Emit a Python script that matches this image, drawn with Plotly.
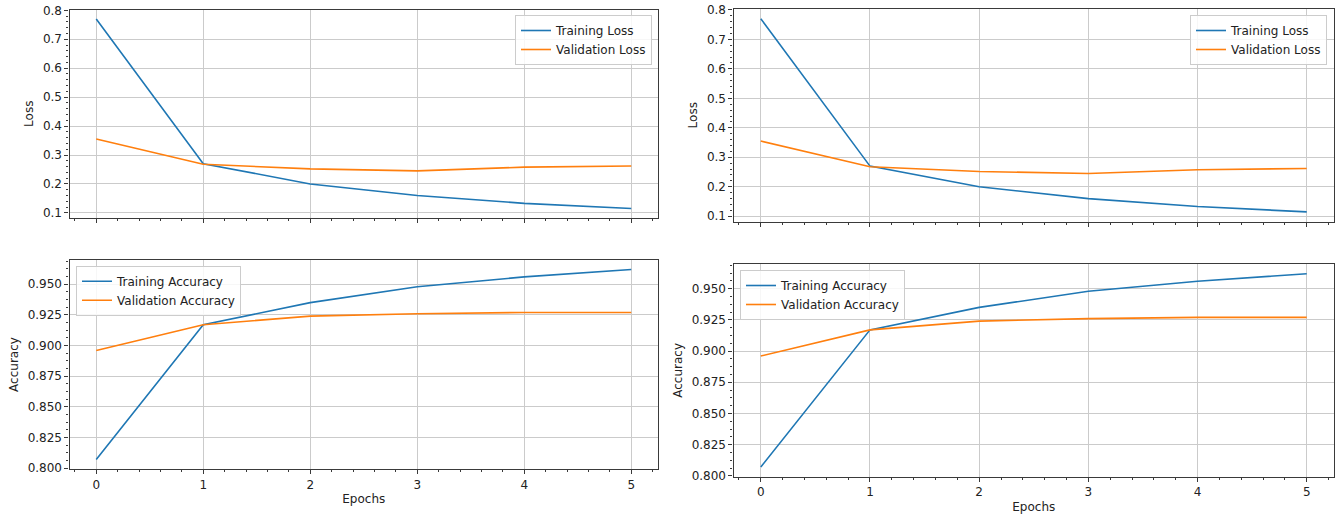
import plotly.graph_objects as go

epochs = [0, 1, 2, 3, 4, 5]
train_loss = [0.770, 0.270, 0.200, 0.160, 0.133, 0.115]
val_loss = [0.355, 0.268, 0.252, 0.245, 0.258, 0.262]
train_acc = [0.807, 0.917, 0.935, 0.948, 0.956, 0.962]
val_acc = [0.896, 0.917, 0.924, 0.926, 0.927, 0.927]

BLUE = "#1f77b4"
ORANGE = "#ff7f0e"
W, H = 1341, 517
FONT = "DejaVu Sans"

fig = go.Figure()

panels = [
    ("x", "y", "legend", [("Training Loss", train_loss, BLUE), ("Validation Loss", val_loss, ORANGE)]),
    ("x2", "y2", "legend2", [("Training Accuracy", train_acc, BLUE), ("Validation Accuracy", val_acc, ORANGE)]),
    ("x3", "y3", "legend3", [("Training Loss", train_loss, BLUE), ("Validation Loss", val_loss, ORANGE)]),
    ("x4", "y4", "legend4", [("Training Accuracy", train_acc, BLUE), ("Validation Accuracy", val_acc, ORANGE)]),
]
for xa, ya, lg, series in panels:
    for name, vals, col in series:
        fig.add_trace(go.Scatter(x=epochs, y=vals, mode="lines", name=name,
                                 line=dict(color=col, width=1.6), xaxis=xa, yaxis=ya,
                                 legend=lg))

def px_x(p):
    return p / W

def px_y(p):
    return 1 - p / H

grid = "#cbcbcb"
spine = "#3a3a3a"

def xax(domain, anchor, labels, title=None):
    d = dict(domain=domain, anchor=anchor, range=[-0.25, 5.25], tickmode="array",
             tickvals=epochs, ticktext=[str(e) for e in epochs] if labels else [""] * 6,
             showgrid=True, gridcolor=grid, gridwidth=1, zeroline=False, automargin=False,
             showline=True, linecolor=spine, linewidth=1.2, mirror=True,
             ticks="outside", ticklen=4, tickcolor=spine, tickwidth=1,
             minor=dict(dtick=0.2, tick0=0, ticks="outside", ticklen=2, tickcolor=spine, showgrid=False),
             tickfont=dict(family=FONT, size=12, color="#222"))
    if title:
        d["title"] = dict(text=title, font=dict(family=FONT, size=12, color="#222"), standoff=4)
    return d

def yax(domain, anchor, rng, dtick, mdt, fmt, title):
    return dict(domain=domain, anchor=anchor, range=rng, dtick=dtick, tick0=0,
                tickformat=fmt, showgrid=True, gridcolor=grid, gridwidth=1, zeroline=False,
                automargin=False,
                showline=True, linecolor=spine, linewidth=1.2, mirror=True,
                ticks="outside", ticklen=4, tickcolor=spine, tickwidth=1,
                minor=dict(dtick=mdt, tick0=0, ticks="outside", ticklen=2, tickcolor=spine, showgrid=False),
                tickfont=dict(family=FONT, size=12, color="#222"),
                title=dict(text=title, font=dict(family=FONT, size=12, color="#222"), standoff=6))

loss_rng = [0.0823, 0.8028]
acc_rng = [0.7993, 0.9698]

L_x = [px_x(69.5), px_x(658)]
R_x = [px_x(733.5), px_x(1334)]

fig.update_layout(
    width=W, height=H, margin=dict(l=0, r=0, t=0, b=0, autoexpand=False),
    paper_bgcolor="white", plot_bgcolor="white",
    font=dict(family=FONT, size=12, color="#222"),
    xaxis=xax(L_x, "y", False),
    yaxis=yax([px_y(218), px_y(9.5)], "x", loss_rng, 0.1, 0.02, ".1f", "Loss"),
    xaxis2=xax(L_x, "y2", True, "Epochs"),
    yaxis2=yax([px_y(469), px_y(260)], "x2", acc_rng, 0.025, 0.00625, ".3f", "Accuracy"),
    xaxis3=xax(R_x, "y3", False),
    yaxis3=yax([px_y(221.5), px_y(9)], "x3", loss_rng, 0.1, 0.02, ".1f", "Loss"),
    xaxis4=xax(R_x, "y4", True, "Epochs"),
    yaxis4=yax([px_y(476.7), px_y(264)], "x4", acc_rng, 0.025, 0.00625, ".3f", "Accuracy"),
)

def legend(x, y, xanchor):
    return dict(x=x, y=y, xanchor=xanchor, yanchor="top", xref="paper", yref="paper",
                bgcolor="rgba(255,255,255,0.85)", bordercolor="#cccccc", borderwidth=1,
                font=dict(family=FONT, size=12, color="#222"), itemwidth=30,
                tracegroupgap=0)

fig.update_layout(
    legend=legend(px_x(652), px_y(15), "right"),
    legend2=legend(px_x(76), px_y(265.7), "left"),
    legend3=legend(px_x(1327), px_y(15), "right"),
    legend4=legend(px_x(740), px_y(270), "left"),
)

fig.write_html("out.html", config={"displayModeBar": False},
               post_script="document.body.style.margin='0';document.body.style.overflow='hidden';")
